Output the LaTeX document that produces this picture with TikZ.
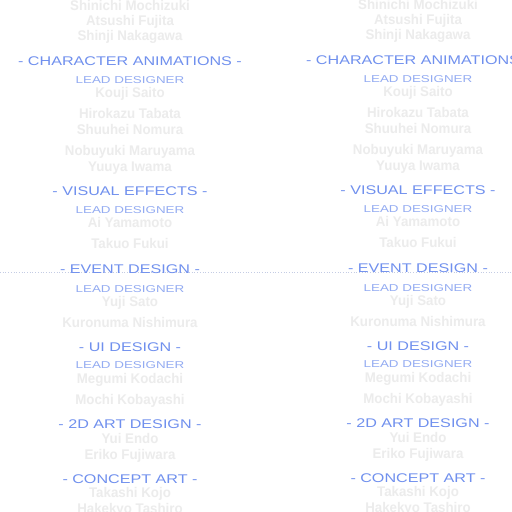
\documentclass[tikz,border=0pt]{standalone}
\usepackage{fontspec}
\setmainfont{Liberation Sans}
\newfontfamily\namefont{Liberation Sans}[FakeStretch=0.95]
\newfontfamily\headfont{Liberation Sans}[FakeStretch=1.28]
\newfontfamily\rolefont{Liberation Sans}[FakeStretch=1.34]
\definecolor{credname}{HTML}{ECECEC}
\definecolor{credhead}{HTML}{7090EE}
\definecolor{credrole}{HTML}{94ACF2}
\definecolor{scanline}{HTML}{C4CCE4}

\begin{document}
\begin{tikzpicture}[
    x=1pt, y=-1pt,
    credit/.style={anchor=base, inner sep=0pt, text=credname, font=\namefont\bfseries\fontsize{14}{14}\selectfont},
    section/.style={anchor=base, inner sep=0pt, text=credhead, font=\headfont\fontsize{12.6}{12.6}\selectfont},
    role/.style={anchor=base, inner sep=0pt, text=credrole, font=\rolefont\fontsize{10}{10}\selectfont},
    glitch/.style={draw=scanline, line width=0.7pt, dotted}
]
\fill[white] (0,0) rectangle (512,512);
\useasboundingbox (0,0) rectangle (512,512);

% faint scan line across the screen
\coordinate (scan-w) at (0,272);
\coordinate (scan-e) at (512,272);
\draw[glitch] (scan-w) -- (scan-e);

% the same credits, twice
\foreach \col/\cx/\cy in {l/130/0, r/418/-1} {
  \begin{scope}[shift={(\cx,\cy)}]
    \node[credit] (mochizuki-\col) at (0,10) {Shinichi Mochizuki};
    \node[credit] (fujita-\col) at (0,25) {Atsushi Fujita};
    \node[credit] (nakagawa-\col) at (0,40) {Shinji Nakagawa};

    \node[section] (anim-\col) at (0,65.5) {- CHARACTER ANIMATIONS -};
    \node[role] (animlead-\col) at (0,83) {LEAD DESIGNER};
    \node[credit] (saito-\col) at (0,97) {Kouji Saito};
    \node[credit] (tabata-\col) at (0,118) {Hirokazu Tabata};
    \node[credit] (nomura-\col) at (0,134) {Shuuhei Nomura};
    \node[credit] (maruyama-\col) at (0,155) {Nobuyuki Maruyama};
    \node[credit] (iwama-\col) at (0,171) {Yuuya Iwama};

    \node[section] (vfx-\col) at (0,195.5) {- VISUAL EFFECTS -};
    \node[role] (vfxlead-\col) at (0,213) {LEAD DESIGNER};
    \node[credit] (yamamoto-\col) at (0,227) {Ai Yamamoto};
    \node[credit] (fukui-\col) at (0,248) {Takuo Fukui};

    \node[section] (event-\col) at (0,273.5) {- EVENT DESIGN -};
    \node[role] (eventlead-\col) at (0,292) {LEAD DESIGNER};
    \node[credit] (sato-\col) at (0,306) {Yuji Sato};
    \node[credit] (nishimura-\col) at (0,327) {Kuronuma Nishimura};

    \node[section] (ui-\col) at (0,351.5) {- UI DESIGN -};
    \node[role] (uilead-\col) at (0,368.5) {LEAD DESIGNER};
    \node[credit] (kodachi-\col) at (0,383) {Megumi Kodachi};
    \node[credit] (kobayashi-\col) at (0,404) {Mochi Kobayashi};

    \node[section] (art-\col) at (0,428.5) {- 2D ART DESIGN -};
    \node[credit] (endo-\col) at (0,443) {Yui Endo};
    \node[credit] (fujiwara-\col) at (0,459) {Eriko Fujiwara};

    \node[section] (concept-\col) at (0,483.5) {- CONCEPT ART -};
    \node[credit] (kojo-\col) at (0,497) {Takashi Kojo};
    \node[credit] (tashiro-\col) at (0,513) {Hakekyo Tashiro};
  \end{scope}
}
\end{tikzpicture}
\end{document}
